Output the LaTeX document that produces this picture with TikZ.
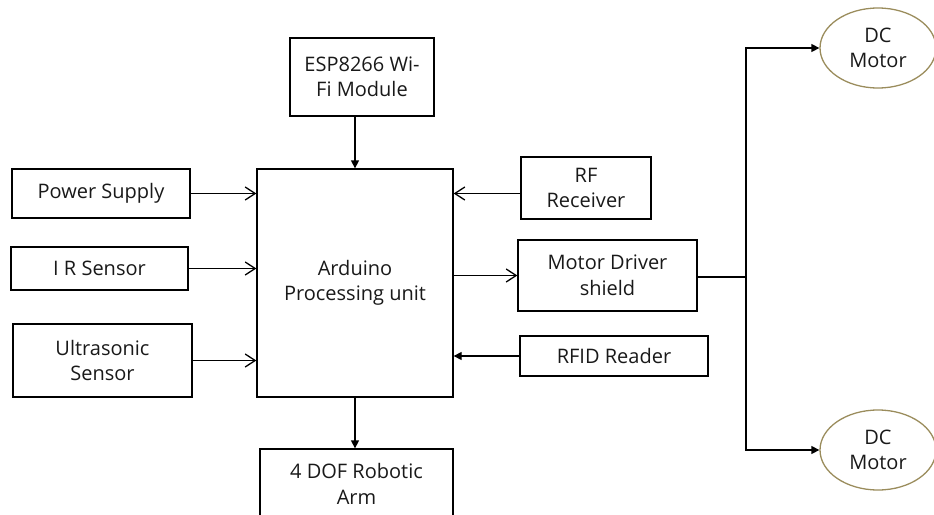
\documentclass[tikz,border=0pt]{standalone}
\usepackage{fontspec}
\setmainfont{Open Sans}
\usetikzlibrary{arrows.meta,shapes.geometric,calc}
\definecolor{olive}{HTML}{9A8C5C}
\begin{document}
\begin{tikzpicture}[x=1pt,y=-1pt,
  box/.style={draw,line width=1.3pt,inner sep=0pt,align=center,
    font=\fontsize{20}{25.5}\selectfont,text=black!90},
  motor/.style={draw=olive,ellipse,line width=1.3pt,inner sep=0pt,align=center,
    minimum width=116pt,minimum height=80pt,font=\fontsize{20}{25.5}\selectfont,text=black!90},
  conn/.style={line width=1.3pt},
  open/.style={conn,-{Straight Barb[length=10pt,width=13pt,line width=1.3pt]}},
  solid/.style={conn,-{Triangle[length=8pt,width=8pt]}}]
\useasboundingbox (0,0) rectangle (934,514);
\clip (0,0) rectangle (934,514);
\node[box,minimum width=144pt,minimum height=78pt] (esp) at (362,77) {ESP8266 Wi-\\Fi Module};
\node[box,minimum width=196pt,minimum height=228pt] (ard) at (355,283) {Arduino\\Processing unit};
\node[box,minimum width=178pt,minimum height=49pt] (pow) at (101,193.5) {Power Supply};
\node[box,minimum width=177pt,minimum height=43pt] (ir) at (99.5,268.5) {I R Sensor};
\node[box,minimum width=179pt,minimum height=73pt] (us) at (102.5,360.5) {Ultrasonic\\Sensor};
\node[box,minimum width=193pt,minimum height=70pt] (dof) at (356.5,484) {4 DOF Robotic\\Arm};
\node[box,minimum width=130pt,minimum height=62pt] (rf) at (586,188) {RF\\Receiver};
\node[box,minimum width=179pt,minimum height=71pt] (md) at (607.5,275.5) {Motor Driver\\shield};
\node[box,minimum width=188pt,minimum height=40pt] (rfid) at (614,356) {RFID Reader};
\node[motor] (dc1) at (878,48) {DC\\Motor};
\node[motor] (dc2) at (878,450) {DC\\Motor};
\coordinate (j) at (746,277);
\draw[solid] (esp.south -| ard.north) -- (ard.north);
\draw[open] (pow.east) -- (pow.east -| ard.west);
\draw[open] (ir.east) -- (ir.east -| ard.west);
\draw[open] (us.east) -- (us.east -| ard.west);
\draw[open] (rf.west |- pow.east) -- (ard.east |- pow.east);
\draw[open] (ard.east |- md.west) -- (md.west);
\draw[solid] (rfid.west) -- (rfid.west -| ard.east);
\draw[solid] (ard.south) -- (dof.north -| ard.south);
\draw[conn] (md.east |- j) -- (j);
\draw[solid] (j) |- (dc1.west);
\draw[solid] (j) |- (dc2.west);
\end{tikzpicture}
\end{document}
